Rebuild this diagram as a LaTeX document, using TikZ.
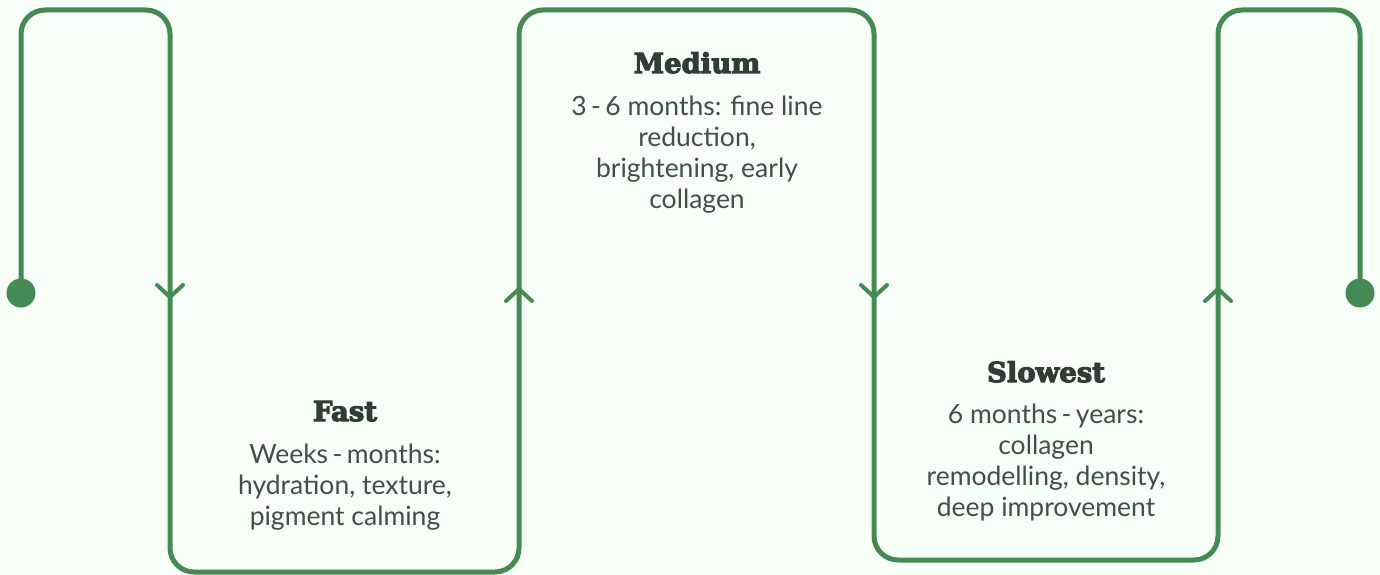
\documentclass[tikz,border=0pt]{standalone}
\usepackage{fontspec}
\setmainfont{Lato}
\newfontfamily\titlefont{DejaVu Serif Bold}
\newcommand{\heavytxt}[1]{\special{pdf:literal direct 2 Tr 1.1 w}#1\special{pdf:literal direct 0 Tr}}
\definecolor{bgc}{HTML}{F7FDF7}
\definecolor{linec}{HTML}{458A55}
\definecolor{textc}{HTML}{3F5048}
\definecolor{titlec}{HTML}{2F3D36}
\tikzset{
  flow/.style={draw=linec, line width=5pt, line cap=round, line join=round},
  dotnode/.style={circle, fill=linec, minimum size=29pt, inner sep=0pt},
  titlenode/.style={font=\titlefont\fontsize{27.5}{30}\selectfont, text=titlec, anchor=base},
  bodynode/.style={font=\fontsize{26.5}{31}\selectfont, text=textc, align=center, anchor=base},
  chev/.style={draw=linec, line width=4pt, line cap=round, line join=round}
}
\begin{document}
\begin{tikzpicture}[x=1pt,y=-1pt]
\fill[bgc] (0,0) rectangle (1380,575);
\useasboundingbox (0,0) rectangle (1380,575);
% corners
\coordinate (c1) at (21,10);
\coordinate (c2) at (170,10);
\coordinate (c3) at (170,572);
\coordinate (c4) at (519,572);
\coordinate (c5) at (519,10);
\coordinate (c6) at (874,10);
\coordinate (c7) at (874,560);
\coordinate (c8) at (1218,560);
\coordinate (c9) at (1218,10);
\coordinate (c10) at (1360,10);
% arrow positions
\coordinate (a1) at (170,297);
\coordinate (a2) at (519,289);
\coordinate (a3) at (874,297);
\coordinate (a4) at (1218,289);
\node[dotnode] (start) at (21,293) {};
\node[dotnode] (end) at (1360,293) {};
\draw[flow, rounded corners=24pt] (start.center) -- (c1) -- (c2) -- (c3) -- (c4) -- (c5) -- (c6) -- (c7) -- (c8) -- (c9) -- (c10) -- (end.center);
% chevrons
\draw[chev] ([shift={(-13,-12)}]a1) -- (a1) -- ([shift={(13,-12)}]a1);
\draw[chev] ([shift={(-13,12)}]a2) -- (a2) -- ([shift={(13,12)}]a2);
\draw[chev] ([shift={(-13,-12)}]a3) -- (a3) -- ([shift={(13,-12)}]a3);
\draw[chev] ([shift={(-13,12)}]a4) -- (a4) -- ([shift={(13,12)}]a4);
% texts (body base anchor = baseline of last line)
\node[titlenode] (t1) at (345,421) {\heavytxt{Fast}};
\node[bodynode] (b1) at (345,525) {Weeks\,-\,months:\\hydration, texture,\\pigment calming};
\node[titlenode] (t2) at (697,73) {\heavytxt{Medium}};
\node[bodynode] (b2) at (697,208) {3\,-\,6 months: fine line\\reduction,\\brightening, early\\collagen};
\node[titlenode] (t3) at (1046,382) {\heavytxt{Slowest}};
\node[bodynode] (b3) at (1046,516) {6 months\,-\,years:\\collagen\\remodelling, density,\\deep improvement};
\end{tikzpicture}
\end{document}
